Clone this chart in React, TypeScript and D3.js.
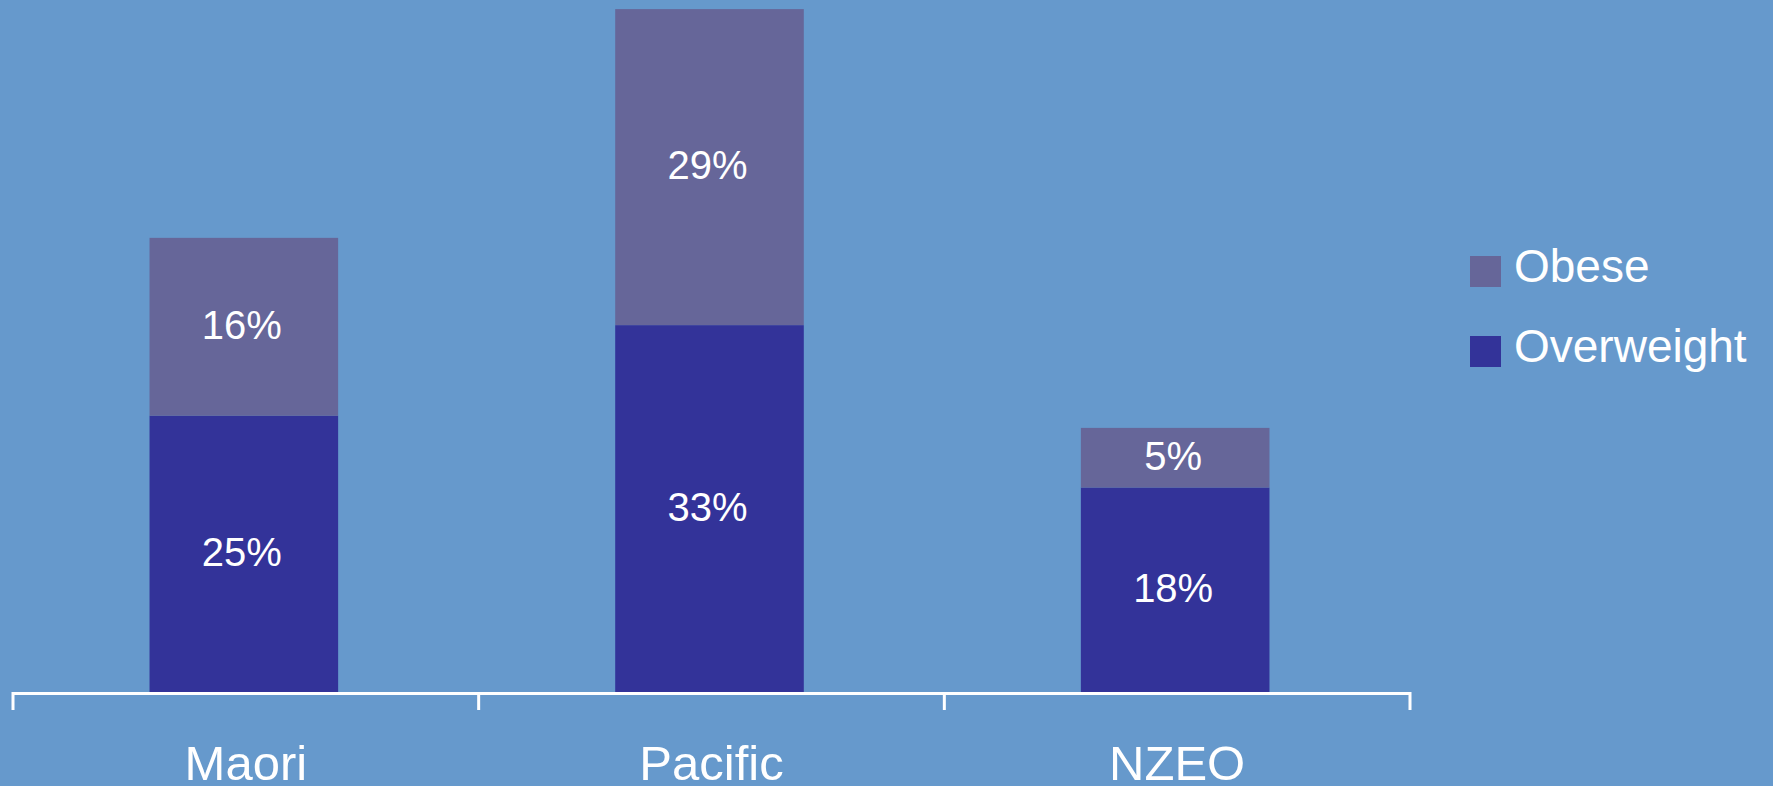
import React, { useEffect, useRef } from 'react';
import * as d3 from 'd3';

// Data (percent of population)
const categories = ['Maori', 'Pacific', 'NZEO'];
const overweight = [25.0, 33.2, 18.5];
const obese = [16.1, 28.6, 5.4];
const overweightLabels = ['25%', '33%', '18%'];
const obeseLabels = ['16%', '29%', '5%'];
const seriesNames = ['Obese', 'Overweight'];

const WIDTH = 1773;
const HEIGHT = 786;
const BG = '#6699cc';
const COLORS: Record<string, string> = { Obese: '#666699', Overweight: '#333399' };
const FONT = '"Liberation Sans", Arial, sans-serif';

const App: React.FC = () => {
  const svgRef = useRef<SVGSVGElement>(null);

  useEffect(() => {
    if (!svgRef.current) return;
    const svg = d3.select(svgRef.current);
    svg.selectAll('*').remove();

    svg.append('rect').attr('width', WIDTH).attr('height', HEIGHT).attr('fill', BG);

    const baseY = 692;
    const x = d3.scaleBand<string>().domain(categories).range([13, 1410]);
    const y = d3.scaleLinear().domain([0, 62]).range([baseY, baseY - 62 * 11.05]);
    const barW = x.bandwidth() * 0.405;
    const shift = -2; // bars sit a touch left of band centre in the original

    const rows = categories.map((c, i) => ({
      cat: c,
      Overweight: overweight[i],
      Obese: obese[i],
      owLabel: overweightLabels[i],
      obLabel: obeseLabels[i],
    }));

    const stack = d3.stack<any>().keys(['Overweight', 'Obese']);
    const layers = stack(rows);

    const g = svg.append('g');
    layers.forEach(layer => {
      g.selectAll(null)
        .data(layer)
        .enter().append('rect')
        .attr('x', d => (x(d.data.cat) as number) + (x.bandwidth() - barW) / 2 + shift)
        .attr('y', d => y(d[1]))
        .attr('width', barW)
        .attr('height', d => y(d[0]) - y(d[1]))
        .attr('fill', COLORS[layer.key]);

      g.selectAll(null)
        .data(layer)
        .enter().append('text')
        .attr('x', d => (x(d.data.cat) as number) + x.bandwidth() / 2 + shift - 2)
        .attr('y', d => (y(d[0]) + y(d[1])) / 2 + 12)
        .attr('text-anchor', 'middle')
        .attr('fill', '#fff')
        .attr('font-family', FONT)
        .attr('font-size', 40)
        .text(d => (layer.key === 'Obese' ? d.data.obLabel : d.data.owLabel));
    });

    // x axis: line with ticks at band edges
    const tickXs = categories.map(c => x(c) as number).concat([x.range()[1]]);
    const axis = svg.append('g').attr('stroke', '#fff').attr('stroke-width', 3).attr('fill', 'none');
    axis.append('path')
      .attr('d', `M${tickXs[0]},710V${baseY + 1.5}H${tickXs[tickXs.length - 1]}V710`);
    tickXs.slice(1, -1).forEach(tx => {
      axis.append('line').attr('x1', tx).attr('x2', tx).attr('y1', baseY + 1.5).attr('y2', 710);
    });

    svg.append('g').selectAll('text')
      .data(categories)
      .enter().append('text')
      .attr('x', c => (x(c) as number) + x.bandwidth() / 2)
      .attr('y', 780)
      .attr('text-anchor', 'middle')
      .attr('fill', '#fff')
      .attr('font-family', FONT)
      .attr('font-size', 49)
      .text(c => c);

    // legend
    const legend = svg.append('g').attr('transform', 'translate(1470,256)');
    seriesNames.forEach((name, i) => {
      const row = legend.append('g').attr('transform', `translate(0,${i * 80})`);
      row.append('rect').attr('width', 31).attr('height', 31).attr('fill', COLORS[name]);
      row.append('text')
        .attr('x', 44)
        .attr('y', 26)
        .attr('fill', '#fff')
        .attr('font-family', FONT)
        .attr('font-size', 46)
        .text(name);
    });
  }, []);

  return (
    <svg
      ref={svgRef}
      width={WIDTH}
      height={HEIGHT}
      style={{ position: 'fixed', left: 0, top: 0, display: 'block' }}
    />
  );
};

export default App;
